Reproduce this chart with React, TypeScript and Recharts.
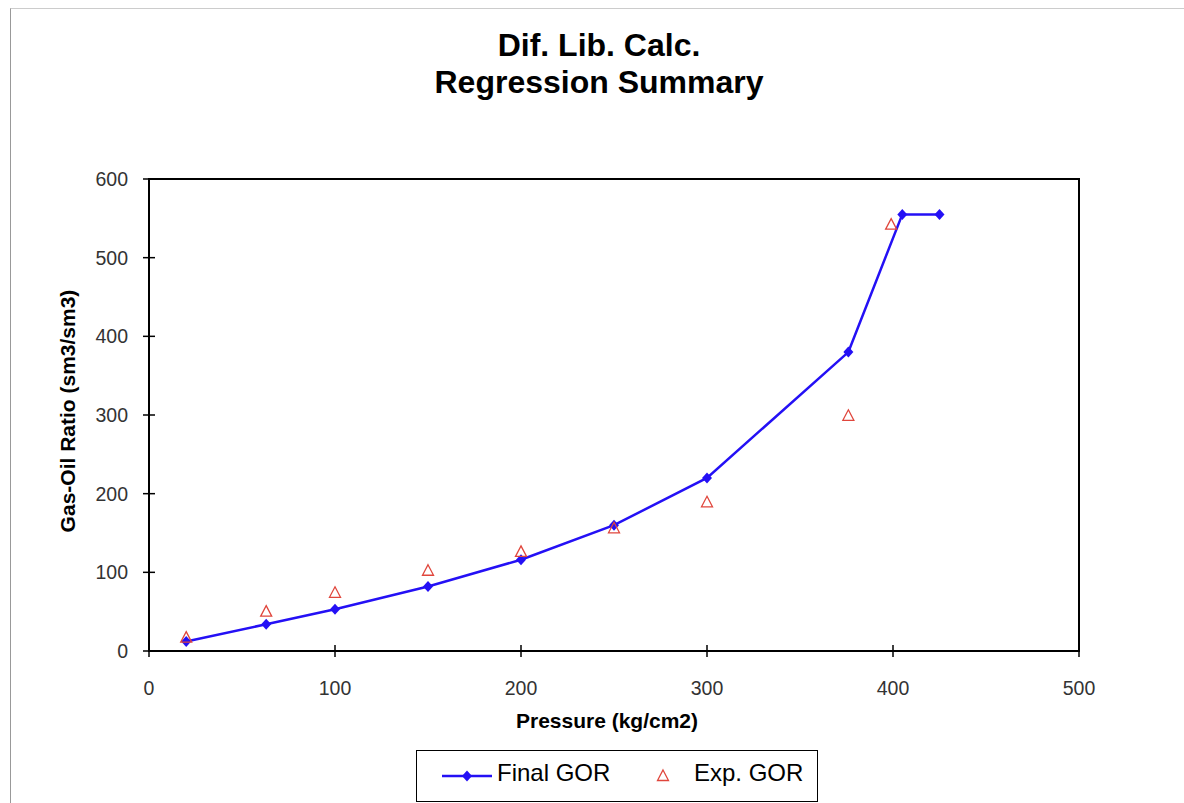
import { ComposedChart, Line, Scatter, XAxis, YAxis, ReferenceArea } from "recharts";

const finalPressure = [20, 63, 100, 150, 200, 250, 300, 376, 405, 425];
const finalGor = [12, 34, 53, 82, 116, 160, 220, 380, 555, 555];
const expPressure = [20, 63, 100, 150, 200, 250, 300, 376, 399];
const expGor = [17, 50, 74, 102, 126, 156, 189, 299, 542];
const xTicks = [0, 100, 200, 300, 400, 500];
const yTicks = [0, 100, 200, 300, 400, 500, 600];

const finalData = finalPressure.map((p, i) => ({ p, gor: finalGor[i] }));
const expData = expPressure.map((p, i) => ({ p, gor: expGor[i] }));

const FONT = "Arial, 'Liberation Sans', sans-serif";
const BLUE = "#2410F5";
const RED = "#E0463C";

const Diamond = ({ cx, cy }: any) => (
  <path d={`M${cx},${cy - 5.5} L${cx + 5},${cy} L${cx},${cy + 5.5} L${cx - 5},${cy} Z`} fill={BLUE} />
);

const Triangle = ({ cx, cy }: any) => (
  <path d={`M${cx},${cy - 6} L${cx + 5.5},${cy + 4.5} L${cx - 5.5},${cy + 4.5} Z`} fill="none" stroke={RED} strokeWidth={1.3} />
);

const YTick = ({ x, y, payload }: any) => (
  <g>
    <line x1={x - 6} x2={x + 6} y1={y} y2={y} stroke="#000" strokeWidth={1.5} />
    <text x={x - 21} y={y} dy={7} textAnchor="end" fontSize={19.5} fill="#333" fontFamily={FONT}>
      {payload.value}
    </text>
  </g>
);

const XTick = ({ x, y, payload }: any) => (
  <g>
    <line x1={x} x2={x} y1={y - 6} y2={y + 6} stroke="#000" strokeWidth={1.5} />
    <text x={x} y={y + 44} textAnchor="middle" fontSize={19.5} fill="#333" fontFamily={FONT}>
      {payload.value}
    </text>
  </g>
);

export default function App() {
  return (
    <div style={{ position: "absolute", left: 0, top: 0, width: 1184, height: 803, background: "#fff", overflow: "hidden", fontFamily: FONT }}>
      <div style={{ position: "absolute", left: 10, top: 8, width: 1174, height: 795, borderLeft: "1px solid #999", borderTop: "1px solid #ccc" }} />
      <div style={{ position: "absolute", left: 0, width: 1198, top: 27, textAlign: "center", fontWeight: "bold", fontSize: 32, lineHeight: "37px", color: "#000" }}>
        Dif. Lib. Calc.
        <br />
        Regression Summary
      </div>
      <div style={{ position: "absolute", left: 68, top: 411, transform: "translate(-50%, -50%) rotate(-90deg)", whiteSpace: "nowrap", fontWeight: "bold", fontSize: 21, color: "#000" }}>
        Gas-Oil Ratio (sm3/sm3)
      </div>
      <div style={{ position: "absolute", left: 607, top: 721, transform: "translate(-50%, -50%)", whiteSpace: "nowrap", fontWeight: "bold", fontSize: 21, color: "#000" }}>
        Pressure (kg/cm2)
      </div>
      <div style={{ position: "absolute", left: 0, top: 0 }}>
        <ComposedChart width={1184} height={803} margin={{ top: 179, right: 105, left: 0, bottom: 112 }}>
          <XAxis
            dataKey="p"
            type="number"
            domain={[0, 500]}
            ticks={xTicks}
            allowDataOverflow
            height={40}
            tickSize={0}
            tickMargin={0}
            tickLine={false}
            axisLine={{ stroke: "#000", strokeWidth: 2 }}
            tick={<XTick />}
          />
          <YAxis
            type="number"
            domain={[0, 600]}
            ticks={yTicks}
            allowDataOverflow
            width={149}
            tickSize={0}
            tickMargin={0}
            tickLine={false}
            axisLine={{ stroke: "#000", strokeWidth: 2 }}
            tick={<YTick />}
          />
          <ReferenceArea x1={0} x2={500} y1={0} y2={600} fill="none" stroke="#000" strokeWidth={2} />
          <Line
            data={finalData}
            dataKey="gor"
            stroke={BLUE}
            strokeWidth={2.5}
            dot={<Diamond />}
            activeDot={false}
            isAnimationActive={false}
          />
          <Scatter data={expData} dataKey="gor" shape={<Triangle />} isAnimationActive={false} />
        </ComposedChart>
      </div>
      <div style={{ position: "absolute", left: 416, top: 750, width: 400, height: 50, border: "1px solid #000", background: "#fff" }}>
        <svg width={60} height={20} style={{ position: "absolute", left: 23, top: 15 }}>
          <line x1={2} x2={52} y1={10} y2={10} stroke={BLUE} strokeWidth={2.5} />
          <Diamond cx={27} cy={10} />
        </svg>
        <span style={{ position: "absolute", left: 80, top: 8, fontSize: 24, color: "#000", whiteSpace: "nowrap" }}>Final GOR</span>
        <svg width={20} height={20} style={{ position: "absolute", left: 236, top: 15 }}>
          <Triangle cx={10} cy={10} />
        </svg>
        <span style={{ position: "absolute", left: 277, top: 8, fontSize: 24, color: "#000", whiteSpace: "nowrap" }}>Exp. GOR</span>
      </div>
    </div>
  );
}
